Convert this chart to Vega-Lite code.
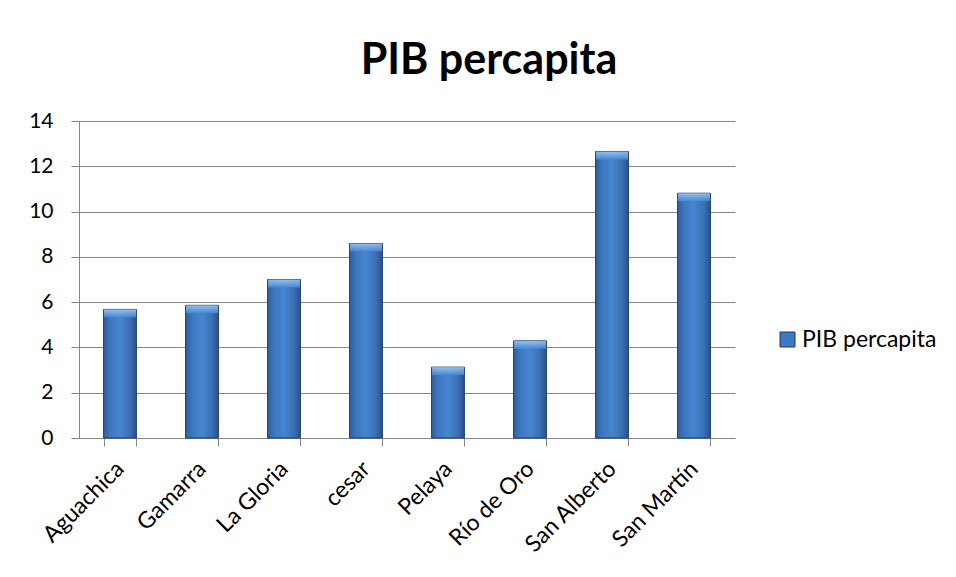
{
  "$schema": "https://vega.github.io/schema/vega-lite/v6.json",
  "width": 656,
  "height": 317,
  "autosize": {"type": "none"},
  "padding": {"left": 79, "top": 121, "right": 221, "bottom": 139},
  "background": "white",
  "title": {
    "text": "PIB percapita",
    "font": "Lato",
    "fontSize": 43,
    "fontWeight": "bold",
    "color": "#000000",
    "anchor": "middle",
    "dx": 82,
    "offset": 27
  },
  "data": {
    "values": [
      {"municipio": "Aguachica", "valor": 5.68, "serie": "PIB percapita"},
      {"municipio": "Gamarra", "valor": 5.86, "serie": "PIB percapita"},
      {"municipio": "La Gloria", "valor": 7.0, "serie": "PIB percapita"},
      {"municipio": "cesar", "valor": 8.59, "serie": "PIB percapita"},
      {"municipio": "Pelaya", "valor": 3.13, "serie": "PIB percapita"},
      {"municipio": "Río de Oro", "valor": 4.29, "serie": "PIB percapita"},
      {"municipio": "San Alberto", "valor": 12.65, "serie": "PIB percapita"},
      {"municipio": "San Martín", "valor": 10.81, "serie": "PIB percapita"}
    ]
  },
  "encoding": {
    "x": {
      "field": "municipio",
      "type": "nominal",
      "sort": null,
      "scale": {"paddingInner": 0.6, "paddingOuter": 0.3},
      "axis": {
        "title": null,
        "labelAngle": -45,
        "labelAlign": "right",
        "labelBaseline": "middle",
        "labelFont": "Lato",
        "labelFontSize": 23,
        "labelColor": "#000000",
        "labelPadding": 19,
        "tickBand": "extent",
        "tickSize": 8,
        "tickColor": "#868686",
        "domainColor": "#868686",
        "grid": false
      }
    },
    "y": {
      "field": "valor",
      "type": "quantitative",
      "scale": {"domain": [0, 14]},
      "axis": {
        "title": null,
        "values": [0, 2, 4, 6, 8, 10, 12, 14],
        "labelFont": "Lato",
        "labelFontSize": 21,
        "labelColor": "#000000",
        "labelPadding": 18,
        "tickSize": 8,
        "tickColor": "#868686",
        "domainColor": "#868686",
        "gridColor": "#868686",
        "gridWidth": 1
      }
    }
  },
  "layer": [
    {
      "mark": {
        "type": "bar",
        "stroke": "#1d3c66",
        "strokeWidth": 1,
        "fill": {
          "gradient": "linear",
          "x1": 0, "y1": 0, "x2": 1, "y2": 0,
          "stops": [
            {"offset": 0, "color": "#305f9c"},
            {"offset": 0.2, "color": "#3d77bf"},
            {"offset": 0.5, "color": "#4686d0"},
            {"offset": 0.8, "color": "#3a70b4"},
            {"offset": 1, "color": "#2a5189"}
          ]
        }
      }
    },
    {
      "mark": {
        "type": "tick",
        "size": 32,
        "thickness": 8,
        "yOffset": 4,
        "opacity": 0.8,
        "color": {
          "gradient": "linear",
          "x1": 0, "y1": 0, "x2": 0, "y2": 1,
          "stops": [
            {"offset": 0, "color": "#a9d1f7"},
            {"offset": 1, "color": "#4a88d4"}
          ]
        }
      }
    },
    {
      "mark": {"type": "point", "opacity": 0, "filled": true},
      "encoding": {
        "color": {
          "field": "serie",
          "type": "nominal",
          "scale": {"range": ["#3d78c2"]},
          "legend": {
            "title": null,
            "orient": "none",
            "legendX": 697,
            "legendY": 207,
            "symbolType": "square",
            "symbolSize": 225,
            "symbolOpacity": 1,
            "symbolStrokeColor": "#1d3c66",
            "symbolStrokeWidth": 1,
            "labelFont": "Lato",
            "labelFontSize": 23,
            "labelColor": "#000000",
            "labelOffset": 3
          }
        }
      }
    }
  ],
  "config": {
    "view": {"stroke": null}
  }
}
